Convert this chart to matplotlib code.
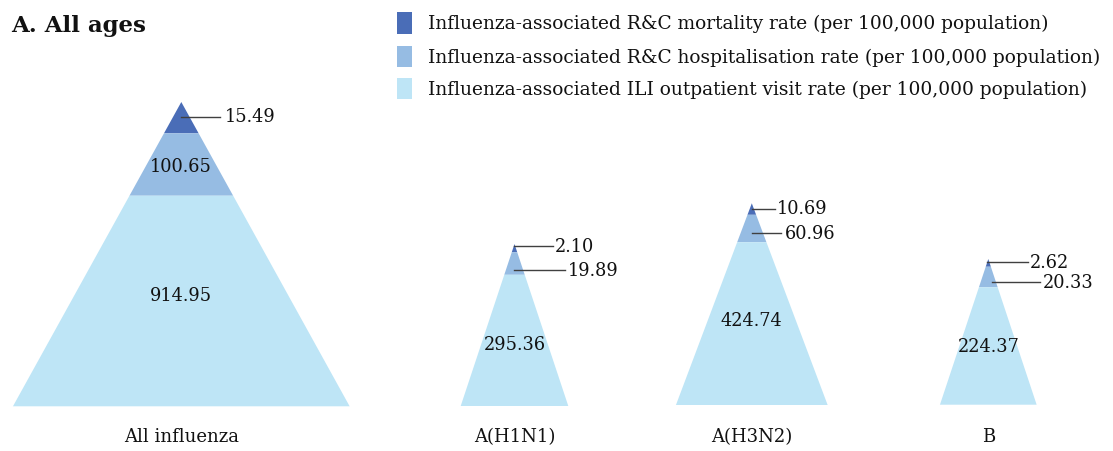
import matplotlib
matplotlib.use("Agg")
import matplotlib.pyplot as plt
from matplotlib.patches import Polygon, Rectangle

# ── Data ──────────────────────────────────────────────────────────────────────
categories      = ["All influenza", "A(H1N1)", "A(H3N2)", "B"]
mortality       = [15.49, 2.10, 10.69, 2.62]
hospitalisation = [100.65, 19.89, 60.96, 20.33]
ili_outpatient  = [914.95, 295.36, 424.74, 224.37]
legend_labels = [
    "Influenza-associated R&C mortality rate (per 100,000 population)",
    "Influenza-associated R&C hospitalisation rate (per 100,000 population)",
    "Influenza-associated ILI outpatient visit rate (per 100,000 population)",
]

# ── Layout (canvas units = pixels, y downwards) ───────────────────────────────
W, H = 1113, 452
centers   = [181.3, 514.5, 751.8, 988.3]
apex_y    = [103.0, 245.0, 204.3, 260.0]
base_y    = [407.3, 407.0, 406.0, 405.7]
base_w    = [336.7, 107.6, 151.7, 96.7]
# fraction of pyramid height (from apex) where each band ends
band_cut  = [(0.103, 0.308), (0.051, 0.190), (0.057, 0.193), (0.053, 0.194)]
ili_y     = [296, 345, 321, 347]
# labels: ("m"/"h", line_y, x0, x1, text_x) outside, ("h_in", y) inside
outside = [
    [("m", 117.5, 181.3, 220, 225), ("h_in", 167.0)],
    [("m", 247.3, 514.0, 553, 555), ("h", 270.7, 514.0, 565, 568)],
    [("m", 209.5, 752.0, 775, 777), ("h", 234.0, 752.0, 781, 785)],
    [("m", 262.7, 987.0, 1028, 1030), ("h", 283.3, 991.7, 1040, 1043)],
]

C = {"mort": "#4A6DB7", "hosp": "#96BCE3", "ili": "#BEE5F6", "line": "#404040"}
plt.rcParams["font.family"] = "DejaVu Serif"
NUM_FS = 12.8

fig = plt.figure(figsize=(W / 100, H / 100), dpi=100)
ax = fig.add_axes([0, 0, 1, 1])
ax.set_xlim(0, W)
ax.set_ylim(H, 0)
ax.axis("off")


def band(cx, ya, yb, hw, t0, t1, color):
    # trapezoid slice of a triangle between fractions t0..t1 of its height
    h = yb - ya
    pts = [(cx - hw * t0, ya + h * t0), (cx + hw * t0, ya + h * t0),
           (cx + hw * t1, ya + h * t1), (cx - hw * t1, ya + h * t1)]
    ax.add_patch(Polygon(pts, closed=True, facecolor=color, edgecolor="none"))


for i, cat in enumerate(categories):
    cx, ya, yb, hw = centers[i], apex_y[i], base_y[i], base_w[i] / 2
    c1, c2 = band_cut[i]
    band(cx, ya, yb, hw, 0, c1, C["mort"])
    band(cx, ya, yb, hw, c1, c2, C["hosp"])
    band(cx, ya, yb, hw, c2, 1, C["ili"])

    vals = {"m": mortality[i], "h": hospitalisation[i]}
    for spec in outside[i]:
        if spec[0] == "h_in":
            ax.text(cx, spec[1], f"{hospitalisation[i]:.2f}", ha="center",
                    va="center", fontsize=NUM_FS, color="#111111")
            continue
        kind, ly, x0, x1, tx = spec
        ax.plot([x0, x1], [ly, ly], color=C["line"], lw=1)
        ax.text(tx, ly, f"{vals[kind]:.2f}", ha="left", va="center",
                fontsize=NUM_FS, color="#111111")

    ax.text(cx, ili_y[i], f"{ili_outpatient[i]:.2f}", ha="center", va="center",
            fontsize=NUM_FS, color="#111111")
    ax.text(cx, 437, cat, ha="center", va="center", fontsize=13,
            color="#111111")

ax.text(11, 26, "A. All ages", ha="left", va="center", fontsize=16.5,
        fontweight="bold", color="#111111")

for j, (lab, col) in enumerate(zip(legend_labels, [C["mort"], C["hosp"], C["ili"]])):
    yc = [24.2, 57.5, 89.5][j]
    ax.add_patch(Rectangle((397.3, yc - 10.8), 15, 21.6, facecolor=col,
                           edgecolor="none"))
    ax.text(428, yc, lab, ha="left", va="center", fontsize=13.4,
            color="#111111")

plt.savefig("out.png", dpi=100)
